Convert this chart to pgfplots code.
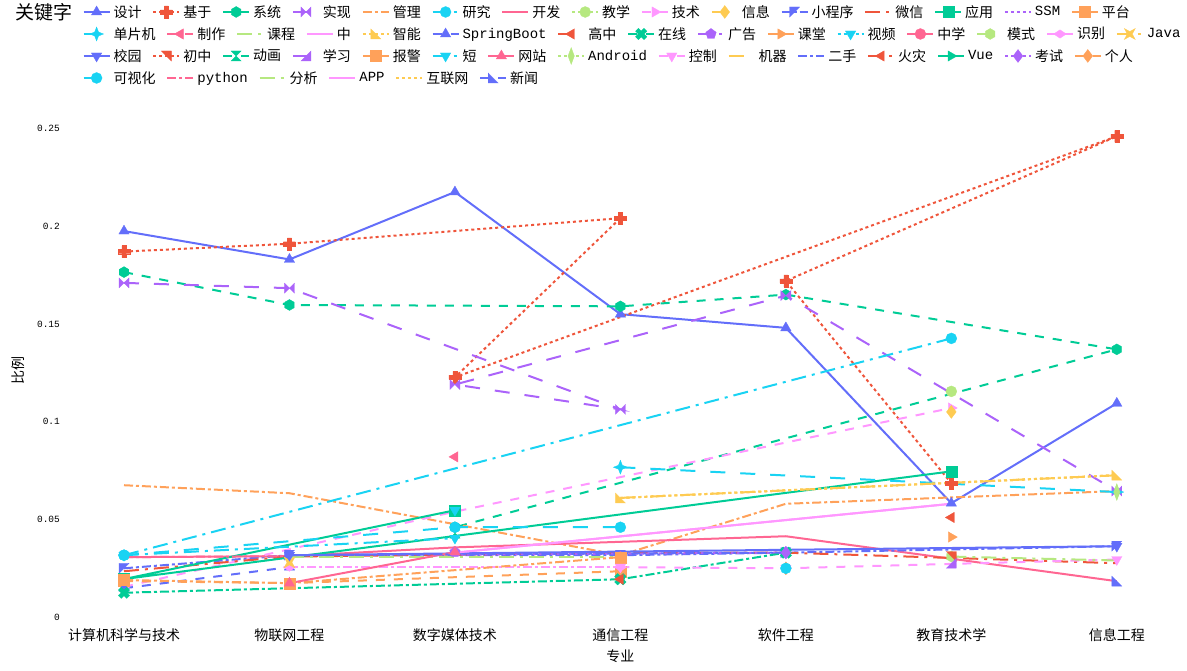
\documentclass[border=0pt]{standalone}
\usepackage{pgfplots}
\pgfplotsset{compat=1.18}
\usepackage{fontspec}
\setmainfont{Noto Sans CJK SC}
\setmonofont{Liberation Mono}

\definecolor{c1}{HTML}{636EFA}
\definecolor{c2}{HTML}{EF553B}
\definecolor{c3}{HTML}{00CC96}
\definecolor{c4}{HTML}{AB63FA}
\definecolor{c5}{HTML}{FFA15A}
\definecolor{c6}{HTML}{19D3F3}
\definecolor{c7}{HTML}{FF6692}
\definecolor{c8}{HTML}{B6E880}
\definecolor{c9}{HTML}{FF97FF}
\definecolor{c10}{HTML}{FECB52}

\tikzset{
 psolid/.style={solid},
 pdot/.style={dash pattern=on 3pt off 3pt},
 pdash/.style={dash pattern=on 9pt off 9pt},
 pldash/.style={dash pattern=on 15pt off 15pt},
 pddot/.style={dash pattern=on 9pt off 3pt on 3pt off 3pt},
 plddot/.style={dash pattern=on 15pt off 6pt on 3pt off 6pt},
}

\pgfdeclareplotmark{hexa}{%
 \pgfpathmoveto{\pgfqpointpolar{30}{\pgfplotmarksize}}%
 \pgfpathlineto{\pgfqpointpolar{90}{\pgfplotmarksize}}%
 \pgfpathlineto{\pgfqpointpolar{150}{\pgfplotmarksize}}%
 \pgfpathlineto{\pgfqpointpolar{210}{\pgfplotmarksize}}%
 \pgfpathlineto{\pgfqpointpolar{270}{\pgfplotmarksize}}%
 \pgfpathlineto{\pgfqpointpolar{330}{\pgfplotmarksize}}%
 \pgfpathclose\pgfusepathqfillstroke}
\pgfdeclareplotmark{bowtie}{%
 \pgfpathmoveto{\pgfqpoint{-\pgfplotmarksize}{\pgfplotmarksize}}%
 \pgfpathlineto{\pgfqpoint{\pgfplotmarksize}{-\pgfplotmarksize}}%
 \pgfpathlineto{\pgfqpoint{\pgfplotmarksize}{\pgfplotmarksize}}%
 \pgfpathlineto{\pgfqpoint{-\pgfplotmarksize}{-\pgfplotmarksize}}%
 \pgfpathclose\pgfusepathqfillstroke}
\pgfdeclareplotmark{hourglass}{%
 \pgfpathmoveto{\pgfqpoint{-\pgfplotmarksize}{\pgfplotmarksize}}%
 \pgfpathlineto{\pgfqpoint{\pgfplotmarksize}{\pgfplotmarksize}}%
 \pgfpathlineto{\pgfqpoint{-\pgfplotmarksize}{-\pgfplotmarksize}}%
 \pgfpathlineto{\pgfqpoint{\pgfplotmarksize}{-\pgfplotmarksize}}%
 \pgfpathclose\pgfusepathqfillstroke}
\pgfdeclareplotmark{triNE}{%
 \pgfpathmoveto{\pgfqpoint{\pgfplotmarksize}{\pgfplotmarksize}}%
 \pgfpathlineto{\pgfqpoint{-\pgfplotmarksize}{\pgfplotmarksize}}%
 \pgfpathlineto{\pgfqpoint{\pgfplotmarksize}{-\pgfplotmarksize}}%
 \pgfpathclose\pgfusepathqfillstroke}
\pgfdeclareplotmark{triNW}{%
 \pgfpathmoveto{\pgfqpoint{-\pgfplotmarksize}{\pgfplotmarksize}}%
 \pgfpathlineto{\pgfqpoint{\pgfplotmarksize}{\pgfplotmarksize}}%
 \pgfpathlineto{\pgfqpoint{-\pgfplotmarksize}{-\pgfplotmarksize}}%
 \pgfpathclose\pgfusepathqfillstroke}
\pgfdeclareplotmark{triSW}{%
 \pgfpathmoveto{\pgfqpoint{-\pgfplotmarksize}{-\pgfplotmarksize}}%
 \pgfpathlineto{\pgfqpoint{-\pgfplotmarksize}{\pgfplotmarksize}}%
 \pgfpathlineto{\pgfqpoint{\pgfplotmarksize}{-\pgfplotmarksize}}%
 \pgfpathclose\pgfusepathqfillstroke}
\pgfdeclareplotmark{triSE}{%
 \pgfpathmoveto{\pgfqpoint{\pgfplotmarksize}{-\pgfplotmarksize}}%
 \pgfpathlineto{\pgfqpoint{\pgfplotmarksize}{\pgfplotmarksize}}%
 \pgfpathlineto{\pgfqpoint{-\pgfplotmarksize}{-\pgfplotmarksize}}%
 \pgfpathclose\pgfusepathqfillstroke}
\pgfdeclareplotmark{star4}{%
 \pgfpathmoveto{\pgfqpoint{0pt}{\pgfplotmarksize}}%
 \pgfpathlineto{\pgfqpoint{0.28\pgfplotmarksize}{0.28\pgfplotmarksize}}%
 \pgfpathlineto{\pgfqpoint{\pgfplotmarksize}{0pt}}%
 \pgfpathlineto{\pgfqpoint{0.28\pgfplotmarksize}{-0.28\pgfplotmarksize}}%
 \pgfpathlineto{\pgfqpoint{0pt}{-\pgfplotmarksize}}%
 \pgfpathlineto{\pgfqpoint{-0.28\pgfplotmarksize}{-0.28\pgfplotmarksize}}%
 \pgfpathlineto{\pgfqpoint{-\pgfplotmarksize}{0pt}}%
 \pgfpathlineto{\pgfqpoint{-0.28\pgfplotmarksize}{0.28\pgfplotmarksize}}%
 \pgfpathclose\pgfusepathqfillstroke}
\pgfdeclareplotmark{starsq}{%
 \pgfpathmoveto{\pgfqpoint{\pgfplotmarksize}{\pgfplotmarksize}}%
 \pgfpathlineto{\pgfqpoint{0pt}{0.45\pgfplotmarksize}}%
 \pgfpathlineto{\pgfqpoint{-\pgfplotmarksize}{\pgfplotmarksize}}%
 \pgfpathlineto{\pgfqpoint{-0.45\pgfplotmarksize}{0pt}}%
 \pgfpathlineto{\pgfqpoint{-\pgfplotmarksize}{-\pgfplotmarksize}}%
 \pgfpathlineto{\pgfqpoint{0pt}{-0.45\pgfplotmarksize}}%
 \pgfpathlineto{\pgfqpoint{\pgfplotmarksize}{-\pgfplotmarksize}}%
 \pgfpathlineto{\pgfqpoint{0.45\pgfplotmarksize}{0pt}}%
 \pgfpathclose\pgfusepathqfillstroke}
\pgfdeclareplotmark{plusthick}{%
 \pgfpathmoveto{\pgfqpoint{0.35\pgfplotmarksize}{\pgfplotmarksize}}%
 \pgfpathlineto{\pgfqpoint{0.35\pgfplotmarksize}{0.35\pgfplotmarksize}}%
 \pgfpathlineto{\pgfqpoint{\pgfplotmarksize}{0.35\pgfplotmarksize}}%
 \pgfpathlineto{\pgfqpoint{\pgfplotmarksize}{-0.35\pgfplotmarksize}}%
 \pgfpathlineto{\pgfqpoint{0.35\pgfplotmarksize}{-0.35\pgfplotmarksize}}%
 \pgfpathlineto{\pgfqpoint{0.35\pgfplotmarksize}{-\pgfplotmarksize}}%
 \pgfpathlineto{\pgfqpoint{-0.35\pgfplotmarksize}{-\pgfplotmarksize}}%
 \pgfpathlineto{\pgfqpoint{-0.35\pgfplotmarksize}{-0.35\pgfplotmarksize}}%
 \pgfpathlineto{\pgfqpoint{-\pgfplotmarksize}{-0.35\pgfplotmarksize}}%
 \pgfpathlineto{\pgfqpoint{-\pgfplotmarksize}{0.35\pgfplotmarksize}}%
 \pgfpathlineto{\pgfqpoint{-0.35\pgfplotmarksize}{0.35\pgfplotmarksize}}%
 \pgfpathlineto{\pgfqpoint{-0.35\pgfplotmarksize}{\pgfplotmarksize}}%
 \pgfpathclose\pgfusepathqfillstroke}

\newcommand{\lat}[1]{{\ttfamily\fontsize{14}{16}\selectfont #1}}

\pgfplotsset{
 s1/.style={color=c1,psolid,mark=triangle*,mark size=6pt,mark options={solid,line width=0.3pt}},
 s2/.style={color=c2,pdot,mark=plusthick,mark size=6pt,mark options={solid,line width=0.3pt}},
 s3/.style={color=c3,pdash,mark=hexa,mark size=5.5pt,mark options={solid,line width=0.3pt}},
 s4/.style={color=c4,pldash,mark=bowtie,mark size=5pt,mark options={solid,line width=0.3pt}},
 s5/.style={color=c5,pddot,mark=none},
 s6/.style={color=c6,plddot,mark=*,mark size=5.5pt,mark options={solid,line width=0.3pt}},
 s7/.style={color=c7,psolid,mark=none},
 s8/.style={color=c8,pdot,mark=*,mark size=5.5pt,mark options={solid,line width=0.3pt}},
 s9/.style={color=c9,pdash,mark=triangle*,mark size=6pt,mark options={solid,line width=0.3pt,rotate=-90}},
 s10/.style={color=c10,pldash,mark=diamond*,mark size=6.5pt,mark options={solid,line width=0.3pt}},
 s11/.style={color=c1,pddot,mark=triNW,mark size=5pt,mark options={solid,line width=0.3pt}},
 s12/.style={color=c2,plddot,mark=none},
 s13/.style={color=c3,psolid,mark=square*,mark size=5.5pt,mark options={solid,line width=0.3pt}},
 s14/.style={color=c4,pdot,mark=none},
 s15/.style={color=c5,pdash,mark=square*,mark size=5.5pt,mark options={solid,line width=0.3pt}},
 s16/.style={color=c6,pldash,mark=star4,mark size=7pt,mark options={solid,line width=0.3pt}},
 s17/.style={color=c7,pddot,mark=triangle*,mark size=6pt,mark options={solid,line width=0.3pt,rotate=90}},
 s18/.style={color=c8,plddot,mark=none},
 s19/.style={color=c9,psolid,mark=none},
 s20/.style={color=c10,pdot,mark=triSW,mark size=5pt,mark options={solid,line width=0.3pt}},
 s21/.style={color=c1,pdash,mark=triangle*,mark size=6pt,mark options={solid,line width=0.3pt}},
 s22/.style={color=c2,pldash,mark=triangle*,mark size=6pt,mark options={solid,line width=0.3pt,rotate=90}},
 s23/.style={color=c3,pddot,mark=plusthick,mark size=6pt,mark options={solid,line width=0.3pt,rotate=45}},
 s24/.style={color=c4,plddot,mark=pentagon*,mark size=5.5pt,mark options={solid,line width=0.3pt}},
 s25/.style={color=c5,psolid,mark=triangle*,mark size=6pt,mark options={solid,line width=0.3pt,rotate=-90}},
 s26/.style={color=c6,pdot,mark=triangle*,mark size=6pt,mark options={solid,line width=0.3pt,rotate=180}},
 s27/.style={color=c7,pdash,mark=*,mark size=5.5pt,mark options={solid,line width=0.3pt}},
 s28/.style={color=c8,pldash,mark=hexa,mark size=5.5pt,mark options={solid,line width=0.3pt}},
 s29/.style={color=c9,pddot,mark=diamond*,mark size=6pt,mark options={solid,line width=0.3pt,xscale=1.4,yscale=0.7}},
 s30/.style={color=c10,plddot,mark=starsq,mark size=5.5pt,mark options={solid,line width=0.3pt}},
 s31/.style={color=c1,psolid,mark=triangle*,mark size=6pt,mark options={solid,line width=0.3pt,rotate=180}},
 s32/.style={color=c2,pdot,mark=triNE,mark size=5pt,mark options={solid,line width=0.3pt}},
 s33/.style={color=c3,pdash,mark=hourglass,mark size=5pt,mark options={solid,line width=0.3pt}},
 s34/.style={color=c4,pldash,mark=triSE,mark size=5pt,mark options={solid,line width=0.3pt}},
 s35/.style={color=c5,pddot,mark=square*,mark size=5.5pt,mark options={solid,line width=0.3pt}},
 s36/.style={color=c6,plddot,mark=triangle*,mark size=6pt,mark options={solid,line width=0.3pt,rotate=180}},
 s37/.style={color=c7,psolid,mark=triangle*,mark size=6pt,mark options={solid,line width=0.3pt}},
 s38/.style={color=c8,pdot,mark=diamond*,mark size=6pt,mark options={solid,line width=0.3pt,xscale=0.7,yscale=1.4}},
 s39/.style={color=c9,pdash,mark=triangle*,mark size=6pt,mark options={solid,line width=0.3pt,rotate=180}},
 s40/.style={color=c10,pldash,mark=none},
 s41/.style={color=c1,pddot,mark=none},
 s42/.style={color=c2,plddot,mark=triangle*,mark size=6pt,mark options={solid,line width=0.3pt,rotate=90}},
 s43/.style={color=c3,psolid,mark=triangle*,mark size=6pt,mark options={solid,line width=0.3pt,rotate=-90}},
 s44/.style={color=c4,pdot,mark=diamond*,mark size=6.5pt,mark options={solid,line width=0.3pt}},
 s45/.style={color=c5,pdash,mark=diamond*,mark size=6.5pt,mark options={solid,line width=0.3pt}},
 s46/.style={color=c6,pldash,mark=*,mark size=5.5pt,mark options={solid,line width=0.3pt}},
 s47/.style={color=c7,pddot,mark=none},
 s48/.style={color=c8,plddot,mark=none},
 s49/.style={color=c9,psolid,mark=none},
 s50/.style={color=c10,pdot,mark=none},
 s51/.style={color=c1,pdash,mark=triSW,mark size=5pt,mark options={solid,line width=0.3pt}},
 legrow/.style={at={#1}, anchor=south west, scale only axis, width=10pt, height=10pt,
   hide axis, xmin=0, xmax=1, ymin=0, ymax=1, legend columns=-1,
   legend cell align=left,
   legend style={at={(0,0)}, anchor=west, draw=none, fill=none, inner sep=0pt,
     font=\fontsize{14}{16}\selectfont,
     nodes={inner sep=1.5pt},
     /tikz/every odd column/.append style={column sep=1.5pt},
     /tikz/every even column/.append style={column sep=9.3pt}},
   legend image code/.code={\draw[line width=2pt,mark repeat=2,mark phase=2] plot coordinates {(0pt,0pt)(13pt,0pt)(26pt,0pt)};}},
}

\begin{document}
\begin{tikzpicture}
\useasboundingbox (-69.4pt,-46pt) rectangle (1117.6pt,625pt);
\begin{axis}[at={(0pt,0pt)}, anchor=south west, scale only axis,
  width=1102pt, height=520pt,
  xmin=-0.33, xmax=6.33, ymin=-0.004, ymax=0.262,
  axis line style={draw=none}, major tick length=0pt,
  xtick={0,1,2,3,4,5,6},
  xticklabels={计算机科学与技术,物联网工程,数字媒体技术,通信工程,软件工程,教育技术学,信息工程},
  ytick={0,0.05,0.1,0.15,0.2,0.25},
  yticklabels={0,0.05,0.1,0.15,0.2,0.25},
  xticklabel style={font=\fontsize{14}{16}\selectfont},
  yticklabel style={font=\ttfamily\fontsize{9.5}{11}\selectfont, xshift=-6pt},
  xlabel={专业}, ylabel={比例},
  xlabel style={at={(axis description cs:0.5,-0.0596)}, anchor=center, font=\fontsize{14}{16}\selectfont},
  ylabel style={at={(axis description cs:-0.0463,0.49)}, anchor=center, font=\fontsize{14}{16}\selectfont},
  every axis plot/.append style={line width=2pt},
  unbounded coords=jump, clip=false]
\addplot[s1] coordinates {(0,0.1975)(1,0.183)(2,0.2175)(3,0.155)(4,0.148)(5,0.0583)(6,0.1094)};
\addplot[s2] coordinates {(0,0.187)(1,0.191)(3,0.2041)(2,0.1227)(6,0.246)(4,0.172)(5,0.0685)};
\addplot[s3] coordinates {(0,0.1765)(1,0.1597)(3,0.159)(4,0.165)(6,0.137)(2,0.046)};
\addplot[s4] coordinates {(0,0.171)(1,0.1683)(3,0.1063)(2,0.119)(4,0.1645)(6,0.0645)};
\addplot[s5] coordinates {(0,0.0675)(1,0.0634)(3,0.0317)(4,0.058)(6,0.0645)};
\addplot[s6] coordinates {(0,0.0317)(5,0.1426)};
\addplot[s7] coordinates {(0,0.0307)(1,0.0312)(2,0.0357)(4,0.0414)(6,0.0184)};
\addplot[s8] coordinates {(5,0.1155)};
\addplot[s9] coordinates {(0,0.0155)(2,0.054)(5,0.107)};
\addplot[s10] coordinates {(5,0.105)};
\addplot[s11] coordinates {(0,0.025)(1,0.0317)(3,0.0317)(4,0.033)(6,0.0363)};
\addplot[s12] coordinates {(0,0.0235)(1,0.031)(3,0.033)(4,0.033)(6,0.0276)};
\addplot[s13] coordinates {(2,0.0547)(0,0.0195)(5,0.0746)};
\addplot[s14] coordinates {(2,0.032)(4,0.033)};
\addplot[s15] coordinates {(0,0.0185)(1,0.0174)(3,0.0235)};
\addplot[s16] coordinates {(3,0.0767)(6,0.064)};
\addplot[s17] coordinates {(2,0.082)};
\addplot[s18] coordinates {(1,0.031)(3,0.031)};
\addplot[s19] coordinates {(2,0.033)(5,0.058)};
\addplot[s20] coordinates {(3,0.061)(6,0.0726)};
\addplot[s21] coordinates {(0,0.0148)(1,0.0256)};
\addplot[s22] coordinates {(5,0.051)};
\addplot[s23] coordinates {(0,0.0125)(3,0.0194)(4,0.033)};
\addplot[s24] coordinates {(2,0.0333)};
\addplot[s25] coordinates {(5,0.041)};
\addplot[s26] coordinates {(2,0.0547)};
\addplot[s27] coordinates {(3,0.0307)};
\addplot[s28] coordinates {(5,0.031)};
\addplot[s29] coordinates {(1,0.0256)(3,0.0256)};
\addplot[s30] coordinates {(1,0.028)};
\addplot[s31] coordinates {(1,0.0317)(6,0.0363)};
\addplot[s32] coordinates {(5,0.031)};
\addplot[s33] coordinates {(2,0.043)};
\addplot[s34] coordinates {(5,0.0276)};
\addplot[s35] coordinates {(0,0.019)(1,0.0174)(3,0.0307)};
\addplot[s36] coordinates {(0,0.0317)(2,0.0404)};
\addplot[s37] coordinates {(1,0.0174)(2,0.0333)};
\addplot[s38] coordinates {(6,0.064)};
\addplot[s39] coordinates {(3,0.0256)(4,0.025)(6,0.0295)};
\addplot[s40] coordinates {(3,0.061)(6,0.0726)};
\addplot[s41] coordinates {(1,0.0317)(4,0.033)};
\addplot[s42] coordinates {(3,0.0194)};
\addplot[s43] coordinates {(4,0.033)};
\addplot[s44] coordinates {(4,0.033)};
\addplot[s45] coordinates {(4,0.025)};
\addplot[s46] coordinates {(0,0.0317)(2,0.046)(3,0.046)(4,nan)(4,0.025)};
\addplot[s47] coordinates {(0,0.0307)(1,0.0312)};
\addplot[s48] coordinates {(5,0.031)(6,0.029)};
\addplot[s49] coordinates {(2,0.033)(5,0.058)};
\addplot[s50] coordinates {(3,0.061)(6,0.0726)};
\addplot[s51] coordinates {(6,0.0184)};
\end{axis}

\node[font=\fontsize{19}{21}\selectfont] at (-25pt,613pt) {关键字};

\begin{axis}[legrow={(13pt,613pt)}]
\addlegendimage{s1}\addlegendentry{设计}
\addlegendimage{s2}\addlegendentry{基于}
\addlegendimage{s3}\addlegendentry{系统}
\addlegendimage{s4}\addlegendentry{实现}
\addlegendimage{s5}\addlegendentry{管理}
\addlegendimage{s6}\addlegendentry{研究}
\addlegendimage{s7}\addlegendentry{开发}
\addlegendimage{s8}\addlegendentry{教学}
\addlegendimage{s9}\addlegendentry{技术}
\addlegendimage{s10}\addlegendentry{信息}
\addlegendimage{s11}\addlegendentry{小程序}
\addlegendimage{s12}\addlegendentry{微信}
\addlegendimage{s13}\addlegendentry{应用}
\addlegendimage{s14}\addlegendentry{\lat{SSM}}
\addlegendimage{s15}\addlegendentry{平台}
\end{axis}
\begin{axis}[legrow={(13pt,591pt)}]
\addlegendimage{s16}\addlegendentry{单片机}
\addlegendimage{s17}\addlegendentry{制作}
\addlegendimage{s18}\addlegendentry{课程}
\addlegendimage{s19}\addlegendentry{中}
\addlegendimage{s20}\addlegendentry{智能}
\addlegendimage{s21}\addlegendentry{\lat{SpringBoot}}
\addlegendimage{s22}\addlegendentry{高中}
\addlegendimage{s23}\addlegendentry{在线}
\addlegendimage{s24}\addlegendentry{广告}
\addlegendimage{s25}\addlegendentry{课堂}
\addlegendimage{s26}\addlegendentry{视频}
\addlegendimage{s27}\addlegendentry{中学}
\addlegendimage{s28}\addlegendentry{模式}
\addlegendimage{s29}\addlegendentry{识别}
\addlegendimage{s30}\addlegendentry{\lat{Java}}
\end{axis}
\begin{axis}[legrow={(13pt,569pt)}]
\addlegendimage{s31}\addlegendentry{校园}
\addlegendimage{s32}\addlegendentry{初中}
\addlegendimage{s33}\addlegendentry{动画}
\addlegendimage{s34}\addlegendentry{学习}
\addlegendimage{s35}\addlegendentry{报警}
\addlegendimage{s36}\addlegendentry{短}
\addlegendimage{s37}\addlegendentry{网站}
\addlegendimage{s38}\addlegendentry{\lat{Android}}
\addlegendimage{s39}\addlegendentry{控制}
\addlegendimage{s40}\addlegendentry{机器}
\addlegendimage{s41}\addlegendentry{二手}
\addlegendimage{s42}\addlegendentry{火灾}
\addlegendimage{s43}\addlegendentry{\lat{Vue}}
\addlegendimage{s44}\addlegendentry{考试}
\addlegendimage{s45}\addlegendentry{个人}
\end{axis}
\begin{axis}[legrow={(13pt,547pt)}]
\addlegendimage{s46}\addlegendentry{可视化}
\addlegendimage{s47}\addlegendentry{\lat{python}}
\addlegendimage{s48}\addlegendentry{分析}
\addlegendimage{s49}\addlegendentry{\lat{APP}}
\addlegendimage{s50}\addlegendentry{互联网}
\addlegendimage{s51}\addlegendentry{新闻}
\end{axis}
\end{tikzpicture}
\end{document}
